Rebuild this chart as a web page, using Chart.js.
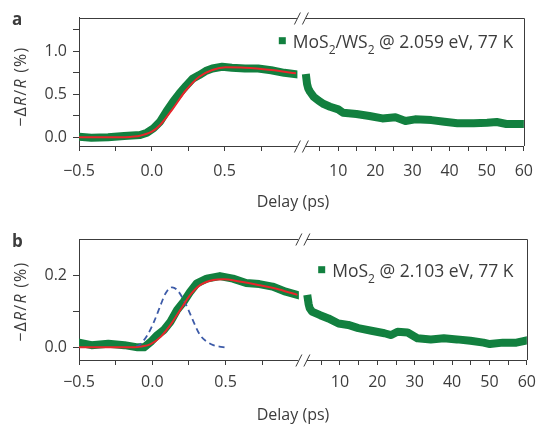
<!DOCTYPE html>
<html><head><meta charset="utf-8">
<script src="https://cdn.jsdelivr.net/npm/chart.js@4/dist/chart.umd.min.js"></script>
<style>html,body{margin:0;padding:0;background:#fff;}canvas{display:block;}</style>
</head><body>
<canvas id="ca" width="544" height="212"></canvas>
<canvas id="cb" width="544" height="212"></canvas>
<script>
// ---------- DATA ----------
// Panel a: MoS2/WS2 @ 2.059 eV, 77 K
const aShortX = [-0.5,-0.415,-0.30,-0.19,-0.08,-0.033,0.012,0.057,0.10,0.146,0.19,0.236,0.28,0.326,0.37,0.416,0.483,0.55,0.64,0.73,0.82,0.91,0.99];
const aShortY = [0.007,-0.005,0.0,0.015,0.027,0.054,0.105,0.182,0.30,0.414,0.51,0.60,0.68,0.724,0.77,0.80,0.82,0.81,0.80,0.80,0.78,0.75,0.733];
const aFitX = [-0.5,-0.3,-0.15,-0.1,0.0,0.057,0.146,0.236,0.326,0.416,0.506,0.64,0.82,0.99];
const aFitY = [0.0,0.0,0.005,0.012,0.065,0.143,0.337,0.55,0.705,0.783,0.814,0.81,0.783,0.744];
const aLongX = [1.4,1.6,1.9,2.4,3.4,4.7,6.1,7.8,10,11.3,14.9,18.4,21.9,25.4,28.1,30.7,35.1,38.6,42.1,46.5,50.1,52.7,55.3,59.5];
const aLongY = [0.69,0.62,0.57,0.53,0.47,0.426,0.387,0.356,0.325,0.286,0.271,0.248,0.22,0.232,0.19,0.209,0.2,0.18,0.163,0.163,0.17,0.178,0.155,0.155];

// Panel b: MoS2 @ 2.103 eV, 77 K
const bShortX = [-0.5,-0.415,-0.30,-0.19,-0.10,-0.056,-0.011,0.034,0.079,0.124,0.169,0.214,0.259,0.304,0.371,0.461,0.55,0.64,0.73,0.82,0.91,0.99];
const bShortY = [0.013,0.006,0.010,0.006,0.0,0.0,0.015,0.034,0.048,0.071,0.103,0.126,0.154,0.177,0.19,0.197,0.19,0.178,0.175,0.168,0.154,0.145];
const bFitX = [-0.5,-0.12,-0.078,-0.011,0.057,0.124,0.19,0.259,0.326,0.416,0.483,0.595,0.73,0.865,0.99];
const bFitY = [0.0,0.0,0.002,0.009,0.029,0.062,0.103,0.145,0.172,0.186,0.188,0.182,0.172,0.16,0.145];
const bPumpX = [-0.11,-0.089,-0.033,0.012,0.057,0.09,0.135,0.169,0.214,0.247,0.281,0.326,0.371,0.416,0.494];
const bPumpY = [0.002,0.006,0.034,0.071,0.117,0.149,0.166,0.159,0.131,0.103,0.071,0.034,0.016,0.006,0.0];
const bLongX = [1.4,1.6,1.9,2.5,4.7,6.9,9.6,12.2,14.9,18.4,21.9,23.7,25.4,28.1,30.7,34.3,37.8,41.3,44.9,48.4,50.1,53.6,57.2,59.5];
const bLongY = [0.134,0.12,0.108,0.099,0.089,0.080,0.066,0.062,0.053,0.046,0.039,0.034,0.043,0.041,0.025,0.022,0.025,0.022,0.018,0.013,0.009,0.013,0.013,0.018];

// ---------- TICKS / LABELS ----------
const xShortTicks = [-0.5,-0.25,0,0.25,0.5,0.75];
const xShortLabels = ['\u22120.5','','0.0','','0.5',''];
const xLongTicks = [5,10,15,20,25,30,35,40,45,50,55,60];
const xLongLabels = ['','10','','20','','30','','40','','50','','60'];
const yTicksA = [0,0.25,0.5,0.75,1.0,1.25];
const yLabelsA = ['0.0','','0.5','','1.0',''];
const yTicksB = [0,0.1,0.2];
const yLabelsB = ['0.0','','0.2'];
const legendA = [['MoS',0],['2',1],['/WS',0],['2',1],[' @ 2.059 eV, 77 K',0]];
const legendB = [['MoS',0],['2',1],[' @ 2.103 eV, 77 K',0]];
const yTitle = [['\u2212\u0394',0],['R',1],['/',0],['R',1],[' (%)',0]];
const xTitle = 'Delay (ps)';

// ---------- STYLE ----------
const FONT = "'Open Sans', sans-serif";
const TXT = '#3c3c3c', AXIS = '#3c3c3c';
const GREEN = '#12803f', RED = '#e8262b', BLUE = '#3d5ba8';
Chart.defaults.font.family = FONT;
Chart.defaults.font.size = 16;
Chart.defaults.color = TXT;

const pts = (xs, ys) => xs.map((x, i) => ({x, y: ys[i]}));

function fontFor(size, f, mode) {
  if (mode === 'sub' && f) return `${Math.round(size*0.68)}px ${FONT}`;
  return `${mode === 'ital' && f ? 'italic ' : ''}${size}px ${FONT}`;
}
function drawRich(ctx, parts, x, y, size, mode) {
  let cx = x;
  ctx.textBaseline = 'alphabetic';
  ctx.textAlign = 'left';
  for (const [t, f] of parts) {
    ctx.font = fontFor(size, f, mode);
    ctx.fillText(t, cx, (mode === 'sub' && f) ? y + size*0.36 : y);
    cx += ctx.measureText(t).width;
  }
  return cx - x;
}
function measureRich(ctx, parts, size, mode) {
  let w = 0;
  for (const [t, f] of parts) { ctx.font = fontFor(size, f, mode); w += ctx.measureText(t).width; }
  return w;
}

const decor = {
  id: 'decor',
  afterDraw(chart, args, o) {
    const ctx = chart.ctx, ca = chart.chartArea, x1 = chart.scales.x1;
    ctx.save();
    ctx.strokeStyle = AXIS; ctx.lineWidth = 1;
    ctx.beginPath();
    ctx.moveTo(ca.left, Math.round(ca.top) + 0.5);
    ctx.lineTo(Math.round(ca.right) + 0.5, Math.round(ca.top) + 0.5);
    ctx.lineTo(Math.round(ca.right) + 0.5, ca.bottom);
    ctx.stroke();
    // axis breaks
    const bx = x1.right;
    for (const y of [Math.round(ca.top) + 0.5, Math.round(ca.bottom) + 0.5]) {
      ctx.fillStyle = '#fff';
      ctx.fillRect(bx - 0.5, y - 1.5, 8.5, 3);
      ctx.beginPath();
      for (const cx of [bx, bx + 8]) { ctx.moveTo(cx - 3, y + 6); ctx.lineTo(cx + 3, y - 6); }
      ctx.stroke();
    }
    ctx.fillStyle = TXT;
    // panel letter
    ctx.font = `bold 17px ${FONT}`;
    ctx.textAlign = 'left'; ctx.textBaseline = 'alphabetic';
    ctx.fillText(o.letter, 12, o.letterY);
    // x title
    ctx.font = `16px ${FONT}`;
    ctx.textAlign = 'center'; ctx.textBaseline = 'middle';
    ctx.fillText(xTitle, 293, o.xTitleY);
    // y title (rotated)
    ctx.save();
    ctx.translate(o.yTitleX, o.yTitleY);
    ctx.rotate(-Math.PI / 2);
    ctx.letterSpacing = '1.2px';
    const w = measureRich(ctx, yTitle, 16, 'ital');
    drawRich(ctx, yTitle, -w / 2, 0, 16, 'ital');
    ctx.restore();
    // legend
    ctx.fillStyle = GREEN;
    ctx.fillRect(o.legX - 3.5, o.legY - 7 - 3.5, 7, 7);
    ctx.fillStyle = TXT;
    drawRich(ctx, o.legend, o.legX + 10.5, o.legY, 17.5, 'sub');
    ctx.restore();
  }
};

function makeChart(id, cfg) {
  const xScale = (ticks, labels, min, max, weight) => ({
    type: 'linear', position: 'bottom', stack: 'x', stackWeight: weight,
    min, max,
    afterBuildTicks: s => { s.ticks = ticks.map(v => ({value: v})); },
    afterFit: s => { s.height = cfg.xH; },
    ticks: { padding: cfg.xPad, maxRotation: 0, autoSkip: false, color: TXT,
             callback: (v, i) => labels[i] },
    grid: { drawOnChartArea: false, tickLength: 5, tickColor: AXIS, tickWidth: 1 },
    border: { color: AXIS, width: 1 }
  });
  const green = (xs, ys, axis) => ({ data: pts(xs, ys), xAxisID: axis, yAxisID: 'y', borderColor: GREEN,
    borderWidth: 8, pointRadius: 0, borderJoinStyle: 'round', borderCapStyle: 'square' });
  return new Chart(document.getElementById(id), {
    type: 'line',
    data: { datasets: [
      { data: pts(cfg.fitX, cfg.fitY), xAxisID: 'x1', yAxisID: 'y', borderColor: RED, borderWidth: 2,
        pointRadius: 0, cubicInterpolationMode: 'monotone' },
      ...(cfg.pumpX ? [{ data: pts(cfg.pumpX, cfg.pumpY), xAxisID: 'x1', yAxisID: 'y', borderColor: BLUE,
        borderWidth: 1.8, borderDash: [6, 4], pointRadius: 0, cubicInterpolationMode: 'monotone' }] : []),
      green(cfg.shortX, cfg.shortY, 'x1'),
      green(cfg.longX, cfg.longY, 'x2')
    ]},
    options: {
      responsive: false, animation: false, devicePixelRatio: 1,
      layout: { padding: { top: cfg.padTop, right: 11.4, bottom: 0, left: 0 } },
      plugins: { legend: { display: false }, tooltip: { enabled: false }, decor: cfg.decor },
      scales: {
        x1: xScale(xShortTicks, xShortLabels, -0.5, 1.0, 222.7),
        x2: xScale(xLongTicks, xLongLabels, -1.0, 60, 230.9),
        y: { type: 'linear', position: 'left', min: cfg.yMin, max: cfg.yMax,
             afterBuildTicks: s => { s.ticks = cfg.yTicks.map(v => ({value: v})); },
             afterFit: s => { s.width = 79; },
             ticks: { padding: 6, color: TXT, callback: (v, i) => cfg.yLabels[i] },
             grid: { drawOnChartArea: false, tickLength: 6, tickColor: AXIS, tickWidth: 1 },
             border: { color: AXIS, width: 1 } }
      }
    },
    plugins: [decor]
  });
}

makeChart('ca', {
  shortX: aShortX, shortY: aShortY, fitX: aFitX, fitY: aFitY, longX: aLongX, longY: aLongY,
  yMin: -0.101, yMax: 1.393, yTicks: yTicksA, yLabels: yLabelsA,
  padTop: 17.5, xH: 66, xPad: 11,
  decor: { letter: 'a', letterY: 25, xTitleY: 202.7, yTitleX: 26, yTitleY: 86.7,
           legX: 282.3, legY: 47.7, legend: legendA }
});
makeChart('cb', {
  shortX: bShortX, shortY: bShortY, fitX: bFitX, fitY: bFitY, pumpX: bPumpX, pumpY: bPumpY,
  longX: bLongX, longY: bLongY,
  yMin: -0.035, yMax: 0.2988, yTicks: yTicksB, yLabels: yLabelsB,
  padTop: 27.3, xH: 64, xPad: 8,
  decor: { letter: 'b', letterY: 34.7, xTitleY: 203, yTitleX: 26, yTitleY: 89.7,
           legX: 321.7, legY: 64.7, legend: legendB }
});
</script>
</body></html>
